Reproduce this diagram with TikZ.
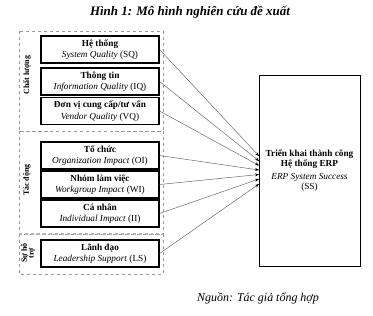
\documentclass[tikz,border=0pt]{standalone}
\usepackage{fontspec}
\setmainfont{Liberation Serif}
\usetikzlibrary{arrows.meta}
\begin{document}
\begin{tikzpicture}[x=1bp,y=-1bp,
  inbox/.style={draw=black,line width=1.1pt,minimum width=118bp,minimum height=27bp,inner sep=0pt,align=center,font=\fontsize{9.3}{11.5}\selectfont},
  outbox/.style={draw=gray!80,dashed,line width=0.8pt},
  grp/.style={rotate=90,font=\fontsize{8}{9}\selectfont\bfseries,align=center},
  conn/.style={draw=gray!85!black,line width=0.5pt,-{Stealth[length=4bp,width=3bp,color=black]}}]
\useasboundingbox (0,0) rectangle (373,316);
\node[font=\fontsize{13}{15}\selectfont\bfseries\itshape] (title) at (190,12) {Hình 1: Mô hình nghiên cứu đề xuất};
% dashed groups
\draw[outbox] (19,31) rectangle (163,131);
\draw[outbox] (19,131) rectangle (163,234);
\draw[outbox] (19,234) rectangle (163,274);
\draw[draw=gray!60,dashed,line width=1.6pt] (19,234) -- (163,234);
\node[grp] (gq) at (27,75) {Chất lượng};
\node[grp] (gt) at (27,180) {Tác động};
\node[grp,font=\fontsize{8}{7}\selectfont\bfseries] (gs) at (28,253) {Sự hỗ\\trợ};
% inner boxes
\node[inbox] (sq) at (100,49.5) {\textbf{Hệ thống}\\\textit{System Quality} (SQ)};
\node[inbox] (iq) at (100,81.5) {\textbf{Thông tin}\\\textit{Information Quality} (IQ)};
\node[inbox] (vq) at (100,111) {\textbf{Đơn vị cung cấp/tư vấn}\\\textit{Vendor Quality} (VQ)};
\node[inbox] (oi) at (100,155.5) {\textbf{Tổ chức}\\\textit{Organization Impact} (OI)};
\node[inbox] (wi) at (100,184.5) {\textbf{Nhóm làm việc}\\\textit{Workgroup Impact} (WI)};
\node[inbox] (ii) at (100,213.5) {\textbf{Cá nhân}\\\textit{Individual Impact} (II)};
\node[inbox] (ls) at (100,253.5) {\textbf{Lãnh đạo}\\\textit{Leadership Support} (LS)};
% target
\node[draw=black,line width=0.9pt,minimum width=101bp,minimum height=191bp,inner sep=0pt,align=center,font=\fontsize{9.3}{11}\selectfont] (ss) at (309.5,170.5)
  {\textbf{Triển khai thành công}\\[-1pt]\textbf{Hệ thống ERP}\\[2pt]\textit{ERP System Success}\\[-1pt](SS)};
\coordinate (e1) at (259,156);
\coordinate (e2) at (259,161);
\coordinate (e3) at (259,165.5);
\coordinate (e4) at (259,170);
\coordinate (e5) at (259,174.5);
\coordinate (e6) at (259,179);
\coordinate (e7) at (259,184);
\draw[conn] (sq.east) -- (e1);
\draw[conn] (iq.east) -- (e2);
\draw[conn] (vq.east) -- (e3);
\draw[conn] (oi.east) -- (e4);
\draw[conn] (wi.east) -- (e5);
\draw[conn] (ii.east) -- (e6);
\draw[conn] (ls.east) -- (e7);
\node[font=\fontsize{12}{14}\selectfont\itshape] (src) at (258,298) {Nguồn: Tác giả tổng hợp};
\end{tikzpicture}
\end{document}
